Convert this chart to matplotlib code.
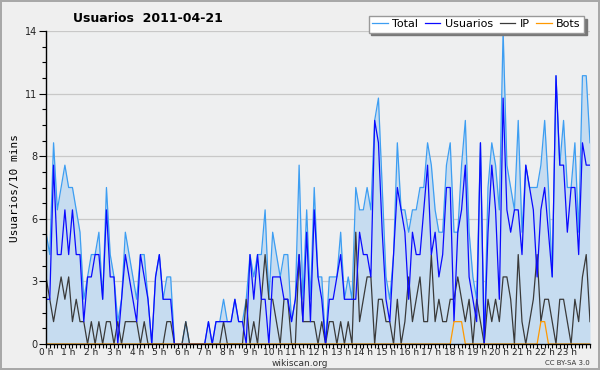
import matplotlib
matplotlib.use("Agg")
import matplotlib.pyplot as plt
import numpy as np

##---------------------------data (per 10 min, 0h .. 24h)---------------------------##
usuarios = [2, 2, 8, 4, 4, 6, 4, 6, 4, 4,
            1, 3, 3, 4, 4, 2, 6, 3, 3, 0,
            2, 4, 3, 2, 1, 4, 3, 2, 0, 3,
            4, 2, 2, 2, 0, 0, 0, 0, 0, 0,
            0, 0, 0, 1, 0, 1, 1, 1, 1, 1,
            2, 1, 1, 0, 4, 2, 4, 2, 2, 0,
            3, 3, 3, 2, 2, 1, 2, 4, 1, 5,
            1, 6, 3, 2, 0, 2, 2, 3, 4, 2,
            2, 2, 2, 5, 4, 4, 3, 10, 9, 5,
            2, 1, 4, 7, 6, 5, 2, 5, 4, 4,
            6, 8, 4, 5, 3, 4, 7, 7, 1, 5,
            6, 8, 3, 2, 1, 9, 0, 5, 8, 6,
            2, 11, 6, 5, 6, 6, 4, 8, 7, 6,
            3, 6, 7, 5, 3, 12, 8, 8, 5, 7,
            7, 4, 9, 8, 8]

ip = [3, 2, 1, 2, 3, 2, 3, 1, 2, 1,
      1, 0, 1, 0, 1, 0, 1, 1, 0, 1,
      0, 1, 1, 1, 1, 0, 1, 0, 0, 0,
      0, 0, 1, 1, 0, 0, 0, 1, 0, 0,
      0, 0, 0, 0, 0, 0, 0, 1, 0, 0,
      0, 0, 0, 2, 0, 1, 0, 2, 4, 2,
      2, 1, 0, 2, 2, 0, 0, 4, 1, 1,
      1, 1, 0, 1, 0, 1, 1, 0, 1, 0,
      1, 0, 5, 1, 2, 3, 3, 0, 2, 2,
      1, 1, 0, 2, 0, 1, 3, 1, 2, 3,
      1, 1, 4, 1, 2, 1, 1, 2, 2, 3,
      2, 1, 2, 0, 2, 1, 0, 2, 1, 2,
      1, 3, 3, 2, 0, 4, 1, 0, 1, 2,
      4, 1, 2, 2, 1, 0, 2, 2, 1, 0,
      2, 1, 3, 4, 1]

total = [5, 4, 9, 6, 7, 8, 7, 7, 6, 5,
         2, 3, 4, 4, 5, 2, 7, 4, 3, 1,
         2, 5, 4, 3, 2, 4, 4, 2, 0, 3,
         4, 2, 3, 3, 0, 0, 0, 1, 0, 0,
         0, 0, 0, 1, 0, 1, 1, 2, 1, 1,
         2, 1, 1, 2, 4, 3, 4, 4, 6, 2,
         5, 4, 3, 4, 4, 1, 2, 8, 2, 6,
         2, 7, 3, 3, 0, 3, 3, 3, 5, 2,
         3, 2, 7, 6, 6, 7, 6, 10, 11, 7,
         3, 2, 4, 9, 6, 6, 5, 6, 6, 7,
         7, 9, 8, 6, 5, 5, 8, 9, 5, 5,
         8, 10, 5, 3, 2, 9, 0, 7, 9, 8,
         6, 14, 8, 7, 6, 10, 5, 8, 7, 7,
         7, 8, 10, 7, 3, 12, 8, 10, 7, 7,
         9, 5, 12, 12, 9]

bots = [0] * 145
for k in [108, 109, 110, 131, 132]:
    bots[k] = 1

y_ticks = [0, 2.8, 5.6, 8.4, 11.2, 14]
y_labels = ['0', '3', '6', '8', '11', '14']
x_labels = ['%d h' % h for h in range(24)]

##----------------------------plot----------------------------##
hours = np.arange(len(total)) / 6.0

fig = plt.figure(figsize=(6, 3.7), dpi=100)
fig.patch.set_facecolor('#efefef')
fig.patch.set_edgecolor('#a8a8a8')
fig.patch.set_linewidth(1.5)

ax = fig.add_axes([46 / 600, 26 / 370, 544 / 600, 313 / 370])
ax.set_facecolor('#eeeff0')

ax.fill_between(hours, total, 0, color='#c6dcf0', lw=0, zorder=1)
ax.plot(hours, total, color='#3d9ef2', lw=0.9, label='Total', zorder=2)
ax.plot(hours, ip, color='#3a3a3a', lw=0.9, label='IP', zorder=2.1)
ax.plot(hours, usuarios, color='#0a0aff', lw=0.9, label='Usuarios', zorder=2.2)
ax.plot(hours, bots, color='#ff9900', lw=0.9, label='Bots', zorder=2.3)

ax.set_xlim(0, 24)
ax.set_ylim(0, 14)
ax.set_yticks(y_ticks)
ax.set_yticklabels(y_labels, fontsize=7, color='#222222')
ax.set_yticks(np.arange(0, 14.01, 0.7), minor=True)
ax.set_xticks(np.arange(24))
ax.set_xticklabels(x_labels, fontsize=6.5, color='#222222')
ax.set_xticks(np.arange(0, 24.01, 1 / 6.0), minor=True)
ax.tick_params(axis='y', which='major', length=5, width=0.8, pad=1)
ax.tick_params(axis='y', which='minor', length=3, width=0.8)
ax.tick_params(axis='x', which='major', length=3, width=0.8, pad=0)
ax.tick_params(axis='x', which='minor', length=3, width=0.8)

ax.grid(axis='y', which='major', color='#c8c8c8', lw=0.9)
ax.set_axisbelow(True)
for side in ['top', 'right']:
    ax.spines[side].set_visible(False)
ax.spines['left'].set_linewidth(1.0)
ax.spines['bottom'].set_linewidth(1.0)

ax.set_ylabel('Usuarios/10 mins', fontsize=8, family='DejaVu Sans Mono', labelpad=4)

fig.text(148 / 600, 1 - 18 / 370, 'Usuarios  2011-04-21', ha='center', va='center',
         fontsize=9, fontweight='bold')
fig.text(300 / 600, 1 - 363 / 370, 'wikiscan.org', ha='center', va='center', fontsize=6.5, color='#333333')
fig.text(590 / 600, 1 - 363 / 370, 'CC BY-SA 3.0', ha='right', va='center', fontsize=5, color='#333333')

handles, labels = ax.get_legend_handles_labels()
order = [0, 2, 1, 3]
leg = ax.legend([handles[k] for k in order], [labels[k] for k in order],
                loc='upper right', bbox_to_anchor=(584 / 600, 1 - 16 / 370),
                bbox_transform=fig.transFigure, ncol=4, fontsize=8, frameon=True,
                fancybox=False, shadow={'color': '#777777', 'alpha': 1},
                handlelength=1.4, handletextpad=0.4, columnspacing=0.6,
                borderpad=0.3, borderaxespad=0)
leg.get_frame().set_edgecolor('#999999')
leg.get_frame().set_linewidth(1.0)

fig.savefig('out.png', dpi=100, facecolor=fig.get_facecolor(), edgecolor=fig.get_edgecolor())
